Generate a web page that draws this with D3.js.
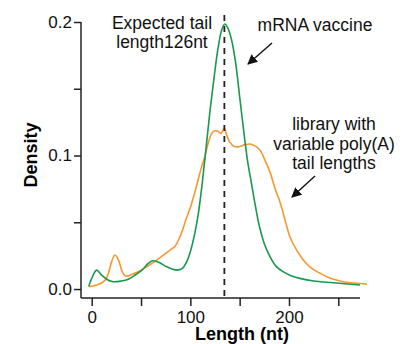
<!DOCTYPE html>
<html>
<head>
<meta charset="utf-8">
<script src="https://cdn.jsdelivr.net/npm/d3@7"></script>
<style>
  body { margin: 0; background: #fff; }
  text { font-family: "Liberation Sans", Arial, sans-serif; }
</style>
</head>
<body>
<div id="chart"></div>
<script>
// Density curves: [length (nt), density]
const mrnaVaccine = [
  [-3, 0.002], [0, 0.008], [5, 0.0142], [10, 0.0105], [16, 0.007], [22, 0.0055],
  [30, 0.006], [37, 0.0073], [44, 0.0105], [51, 0.0142], [57, 0.019], [62, 0.0212],
  [68, 0.020], [76, 0.0167], [82, 0.0148], [87, 0.0142], [92, 0.0155], [96, 0.020],
  [100, 0.028], [104, 0.040], [108, 0.056], [112, 0.079], [116, 0.106], [120, 0.134],
  [124, 0.158], [128, 0.180], [132, 0.1945], [135, 0.1985], [138, 0.1955], [142, 0.186],
  [146, 0.169], [150, 0.144], [154, 0.119], [158, 0.096], [162, 0.079], [166, 0.062],
  [170, 0.047], [175, 0.034], [181, 0.024], [187, 0.017], [194, 0.013], [202, 0.010],
  [211, 0.008], [225, 0.006], [245, 0.0047], [272, 0.003]
];

const variableLibrary = [
  [-3, 0.0017], [5, 0.003], [10, 0.0045], [14, 0.007], [17, 0.012], [20, 0.020],
  [23.6, 0.0255], [27, 0.022], [30.4, 0.0142], [33, 0.0105], [36, 0.0097], [41, 0.011],
  [47, 0.013], [55, 0.0165], [64, 0.0205], [72, 0.025], [80, 0.0295], [84.5, 0.032],
  [90, 0.040], [96, 0.053], [100, 0.061], [104, 0.071], [108, 0.082], [112, 0.093],
  [115, 0.100], [118, 0.109], [121.7, 0.1166], [125, 0.1185], [128.4, 0.118], [131, 0.1166],
  [134.5, 0.1204], [137, 0.115], [140, 0.110], [144, 0.107], [148.7, 0.1065], [155, 0.108],
  [160.5, 0.1086], [166, 0.107], [170.7, 0.104], [176, 0.096], [181, 0.087], [186, 0.075],
  [190, 0.067], [193, 0.060], [197, 0.049], [201, 0.039], [208, 0.029], [214.6, 0.0217],
  [222, 0.016], [231.5, 0.0118], [242, 0.008], [255, 0.0055], [267, 0.0045], [279, 0.0037]
];

const expectedLength = 134.5;
const xTicks = [0, 50, 100, 150, 200, 250];
const xLabels = [0, 100, 200];
const yTicks = [0, 0.05, 0.1, 0.15, 0.2];
const yLabels = [0, 0.1, 0.2];

const width = 409, height = 344;
const svg = d3.select("#chart").append("svg")
    .attr("width", width)
    .attr("height", height);

// axes start a little before zero, igor style
const x = d3.scaleLinear().domain([-10.85, 272]).range([81, 360]);
const y = d3.scaleLinear().domain([-0.0067, 0.2]).range([298, 22]);

// x axis
const xAxis = svg.append("g")
    .attr("transform", `translate(0,${y.range()[0]})`)
    .call(d3.axisBottom(x)
        .tickValues(xTicks)
        .tickSize(8)
        .tickPadding(5)
        .tickFormat(d => xLabels.includes(d) ? d : ""));
xAxis.select(".domain").attr("d", `M${x.range()[0]},0H${x.range()[1]}`);
xAxis.selectAll("line, path").attr("stroke", "#222").attr("stroke-width", 1.5);
xAxis.selectAll("text").attr("font-size", 17).attr("fill", "#111")
    .attr("font-family", "Liberation Sans, Arial, sans-serif");

// y axis
const yAxis = svg.append("g")
    .attr("transform", `translate(${x.range()[0]},0)`)
    .call(d3.axisLeft(y)
        .tickValues(yTicks)
        .tickSize(7)
        .tickPadding(2)
        .tickFormat(d => yLabels.includes(d) ? d3.format(".1f")(d) : ""));
yAxis.select(".domain").attr("d", `M0,${y.range()[1]}V${y.range()[0]}`);
yAxis.selectAll("line, path").attr("stroke", "#222").attr("stroke-width", 1.5);
yAxis.selectAll("text").attr("font-size", 17).attr("fill", "#111")
    .attr("font-family", "Liberation Sans, Arial, sans-serif");

// axis titles
svg.append("text")
    .attr("x", 242).attr("y", 340)
    .attr("text-anchor", "middle")
    .attr("font-size", 18).attr("font-weight", "bold")
    .text("Length (nt)");

svg.append("text")
    .attr("transform", "translate(37,155) rotate(-90)")
    .attr("text-anchor", "middle")
    .attr("font-size", 18).attr("font-weight", "bold")
    .text("Density");

// curves
const line = d3.line()
    .x(d => x(d[0]))
    .y(d => y(d[1]))
    .curve(d3.curveCatmullRom.alpha(0.5));

svg.append("path")
    .datum(variableLibrary)
    .attr("fill", "none")
    .attr("stroke", "#f7982f")
    .attr("stroke-width", 1.6)
    .attr("d", line);

svg.append("path")
    .datum(mrnaVaccine)
    .attr("fill", "none")
    .attr("stroke", "#17994e")
    .attr("stroke-width", 1.6)
    .attr("d", line);

// expected tail length marker
svg.append("line")
    .attr("x1", x(expectedLength)).attr("x2", x(expectedLength))
    .attr("y1", 15).attr("y2", y.range()[0])
    .attr("stroke", "#222")
    .attr("stroke-width", 1.8)
    .attr("stroke-dasharray", "6,5");

// annotations
svg.append("defs").append("marker")
    .attr("id", "arrow")
    .attr("viewBox", "0 0 10 10")
    .attr("refX", 9).attr("refY", 5)
    .attr("markerWidth", 10).attr("markerHeight", 10)
    .attr("markerUnits", "userSpaceOnUse")
    .attr("orient", "auto")
    .append("path")
    .attr("d", "M0,0L10,5L0,10z")
    .attr("fill", "#111");

function label(lines, cx, y0, dy) {
  const t = svg.append("text")
      .attr("text-anchor", "middle")
      .attr("font-size", 17.5)
      .attr("fill", "#111");
  lines.forEach((s, i) => {
    t.append("tspan").attr("x", cx).attr("y", y0 + i * dy).text(s);
  });
}

label(["Expected tail", "length126nt"], 162, 29, 19);
label(["mRNA vaccine"], 315, 31, 19);
label(["library with", "variable poly(A)", "tail lengths"], 334, 130, 19.5);

svg.append("line")
    .attr("x1", 272).attr("y1", 43)
    .attr("x2", 248).attr("y2", 64)
    .attr("stroke", "#111").attr("stroke-width", 1.4)
    .attr("marker-end", "url(#arrow)");

svg.append("line")
    .attr("x1", 315).attr("y1", 176)
    .attr("x2", 292).attr("y2", 197)
    .attr("stroke", "#111").attr("stroke-width", 1.4)
    .attr("marker-end", "url(#arrow)");
</script>
</body>
</html>
